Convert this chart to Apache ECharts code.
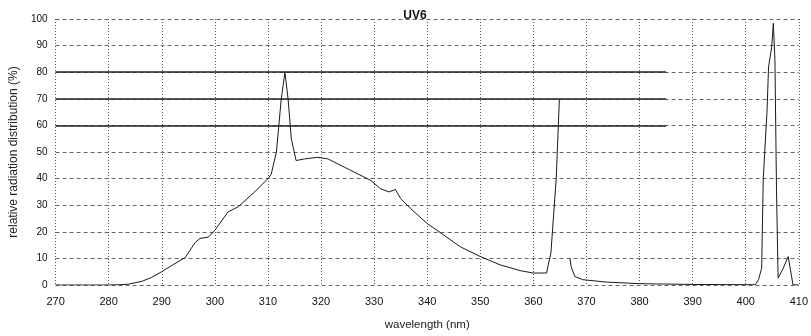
<!DOCTYPE html>
<html>
<head>
<meta charset="utf-8">
<script src="https://cdn.jsdelivr.net/npm/echarts@6/dist/echarts.min.js"></script>
<style>
  html, body { margin: 0; padding: 0; background: #fff; }
  #chart { width: 811px; height: 336px; }
</style>
</head>
<body>
<div id="chart"></div>
<script>
// wavelength (nm) and relative radiation (%); null = gap in the trace
var wavelength = [270, 280, 282, 283.7, 286.3, 288, 290, 292, 294.4, 296.3, 297.2, 298.8, 300, 302.5, 304.4,
  307.5, 310, 310.6, 311.6, 312.5, 313.2, 313.8, 314.4, 315.3, 316.9, 319.4, 321.3, 324.4, 328.1, 329.4,
  331.2, 332.8, 334.0, 335.0, 336.9, 340, 343.1, 346.2, 350, 353.7, 357.5, 360, 362.5, 362.8, 363.3, 364.3,
  364.9, 365.8, 366.9, 367.1, 367.8, 369.3, 373.7, 380, 390, 401.8, 402.4, 403, 403.3, 404, 404.3, 404.9,
  405.2, 405.5, 405.8, 406.1, 407, 408, 408.9, 409.2, 410]
var radiation = [0, 0, 0.1, 0.3, 1.4, 2.8, 5, 7.5, 10.3, 16, 17.5, 18, 20.6, 27.5, 29.4,
  35, 40, 41.5, 50, 69.8, 80, 69.8, 55, 46.8, 47.4, 48, 47.4, 44.3, 40.6, 39.3,
  36.2, 35, 35.9, 32.5, 28.7, 23.1, 18.8, 14.4, 10.7, 7.6, 5.4, 4.5, 4.5, 7.6, 12, 40,
  70, null, 10, 7, 3.2, 2, 1.1, 0.5, 0.2, 0.1, 2, 6.3, 40, 65, 82, 89.6,
  98.4, 84.7, 35, 2.6, 6, 10.7, 0.1, 0, 0]
// the darker printed grid lines
var heavyLevels = [60, 70, 80]
var heavyFrom = 270
var heavyTo = 385

var points = wavelength.map(function (w, i) { return [w, radiation[i]] })

var myChart = echarts.init(document.getElementById('chart'))
myChart.setOption({
  animation: false,
  title: {
    text: 'UV6',
    left: 410,
    top: 5,
    textAlign: 'center',
    textStyle: { fontFamily: 'Liberation Sans', fontSize: 12, fontWeight: 'bold', color: '#111' }
  },
  grid: { left: 53, right: 10, top: 19, bottom: 49 },
  xAxis: {
    type: 'value',
    min: 270,
    max: 410,
    interval: 10,
    name: 'wavelength (nm)',
    nameLocation: 'middle',
    nameGap: 34,
    nameTextStyle: { fontFamily: 'Liberation Sans', fontSize: 11.5, color: '#222' },
    axisLine: { show: false },
    axisTick: { show: false },
    axisLabel: { fontFamily: 'Liberation Sans', fontSize: 11, color: '#111', margin: 11 },
    splitLine: { show: true, lineStyle: { type: [1, 2], color: '#555', width: 1 } }
  },
  yAxis: {
    type: 'value',
    min: 0,
    max: 100,
    interval: 10,
    name: 'relative radiation distribution (%)',
    nameLocation: 'middle',
    nameGap: 30,
    nameTextStyle: { fontFamily: 'Liberation Sans', fontSize: 12, color: '#222' },
    axisLine: { show: false },
    axisTick: { show: false },
    axisLabel: { fontFamily: 'Liberation Sans', fontSize: 10, color: '#111', margin: 8 },
    splitLine: { show: true, lineStyle: { type: [4, 3], color: '#666', width: 1 } }
  },
  series: [{
    type: 'line',
    data: points,
    symbol: 'none',
    connectNulls: false,
    lineStyle: { color: '#1a1a1a', width: 1 },
    markLine: {
      silent: true,
      symbol: 'none',
      label: { show: false },
      lineStyle: { type: 'solid', color: '#222', width: 1.5 },
      data: heavyLevels.map(function (v) {
        return [{ coord: [heavyFrom, v] }, { coord: [heavyTo, v] }]
      })
    }
  }]
})
</script>
</body>
</html>
